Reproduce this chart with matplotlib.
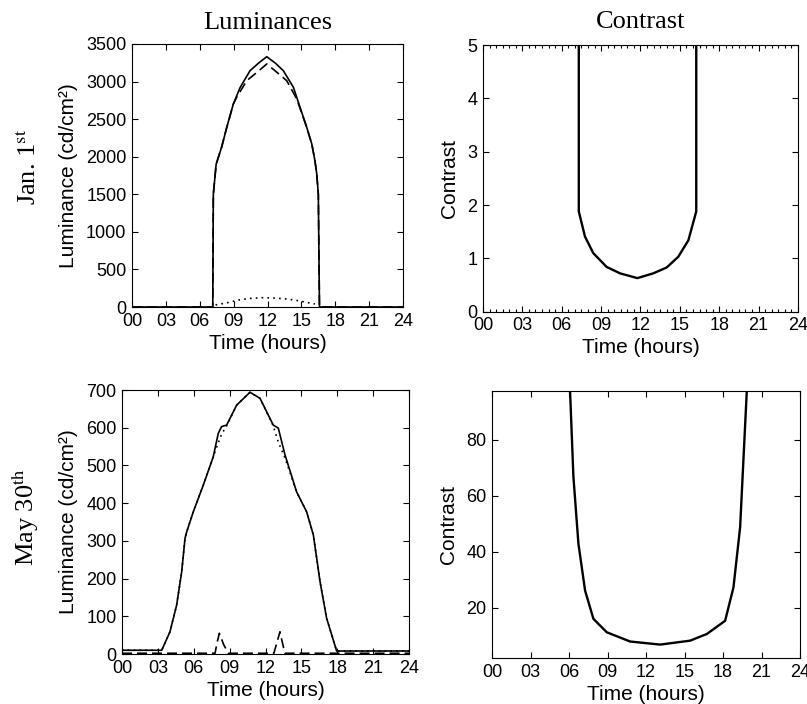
import matplotlib
matplotlib.use("Agg")
import matplotlib.pyplot as plt
from matplotlib.ticker import MultipleLocator

plt.rcParams['font.family'] = ['Liberation Sans', 'DejaVu Sans']
plt.rcParams['mathtext.fontset'] = 'stix'

# --- data ---
hour_ticks = [0, 3, 6, 9, 12, 15, 18, 21, 24]
hour_labels = ["%02d" % h for h in hour_ticks]

# Jan. 1st luminances
jan_time = [0, 7.15, 7.2, 7.45, 7.94, 8.39, 8.97, 9.57, 10.45, 11.2, 11.93,
            12.7, 13.4, 14.29, 14.88, 15.47, 15.92, 16.2, 16.36, 16.5, 16.6, 24]
jan_solid = [0, 0, 1500, 1900, 2130, 2390, 2700, 2920, 3145, 3245, 3331,
             3245, 3145, 2924, 2658, 2392, 2170, 1947, 1770, 1500, 0, 0]
jan_dash_time = [0, 7.15, 7.2, 7.45, 7.94, 8.39, 8.97, 9.27, 10.16, 11.2, 11.93,
                 12.7, 13.7, 14.59, 15.47, 15.92, 16.2, 16.36, 16.5, 16.6, 24]
jan_dashed = [0, 0, 1500, 1900, 2130, 2390, 2700, 2791, 3012, 3140, 3234,
              3140, 3012, 2768, 2392, 2170, 1947, 1770, 1500, 0, 0]
jan_dot_time = [7.4, 8.5, 9.5, 10.5, 11.5, 12.5, 13.5, 14.5, 15.5, 16.2]
jan_dotted = [27, 60, 95, 115, 124, 120, 110, 90, 60, 40]

# Jan. 1st contrast
jan_c_time = [7.3, 7.3, 7.77, 8.4, 9.42, 10.44, 11.76, 12.98, 14.0, 14.88, 15.65, 16.25, 16.25]
jan_contrast = [6, 1.88, 1.41, 1.10, 0.84, 0.72, 0.63, 0.72, 0.83, 1.03, 1.34, 1.88, 6]

# May 30th luminances
may_time = [0, 3.32, 4.01, 4.57, 4.99, 5.27, 5.41, 5.96, 6.80, 7.63, 8.05, 8.33,
            8.75, 9.59, 10.70, 11.54, 12.65, 13.07, 13.63, 14.6, 15.44, 16.0,
            16.56, 17.11, 17.95, 24]
may_solid = [10, 10, 59, 130, 218, 307, 324, 377, 448, 523, 585, 603,
             607, 660, 694, 678, 607, 599, 528, 430, 377, 316,
             192, 95, 8, 8]
may_dotted = [10, 10, 59, 130, 218, 307, 324, 377, 448, 523, 560, 583,
              605, 660, 694, 678, 605, 562, 520, 430, 377, 316,
              192, 95, 8, 8]
may_dash_time = [0, 7.78, 7.95, 8.14, 8.5, 8.89, 12.7, 12.95, 13.21, 13.45, 13.63, 24]
may_dashed = [2, 2, 30, 55, 25, 2, 2, 30, 59, 25, 2, 2]

# May 30th contrast
may_c_time = [5.95, 6.08, 6.34, 6.73, 7.25, 7.90, 8.94, 10.76, 13.1, 15.43,
              16.74, 18.16, 18.81, 19.33, 19.85, 19.95]
may_contrast = [110, 97.5, 66.9, 43.0, 26.2, 16.1, 11.3, 8.0, 6.9, 8.3,
                10.7, 15.4, 27.3, 48.8, 97.5, 110]

fig = plt.figure(figsize=(8.07, 7.04), dpi=100)
ax_tl = fig.add_axes([0.1636, 0.5639, 0.3358, 0.3736])
ax_tr = fig.add_axes([0.5985, 0.5572, 0.3903, 0.3788])
ax_bl = fig.add_axes([0.1512, 0.0710, 0.3556, 0.3750])
ax_br = fig.add_axes([0.6097, 0.0653, 0.3817, 0.3793])


def style_axes(ax, ylabel):
    ax.set_xlim(0, 24)
    ax.set_xticks(hour_ticks)
    ax.set_xticklabels(hour_labels)
    ax.set_xlabel("Time (hours)", fontsize=15, labelpad=3)
    ax.set_ylabel(ylabel, fontsize=15, labelpad=6)
    ax.tick_params(direction='in', top=True, right=True, length=4,
                   width=0.8, labelsize=13, pad=4)
    for sp in ax.spines.values():
        sp.set_linewidth(0.8)


# top-left: Jan luminance
ax_tl.plot(jan_time, jan_solid, color='black', lw=1.2)
ax_tl.plot(jan_dash_time, jan_dashed, color='black', lw=1.2, ls=(0, (6, 3)))
ax_tl.plot(jan_dot_time, jan_dotted, color='black', lw=1.2, ls=(0, (1, 2.5)))
ax_tl.set_ylim(0, 3500)
ax_tl.yaxis.set_major_locator(MultipleLocator(500))
style_axes(ax_tl, "Luminance (cd/cm²)")
ax_tl.set_title("Luminances", family='Liberation Serif', fontsize=19, pad=11)

# top-right: Jan contrast
ax_tr.plot(jan_c_time, jan_contrast, color='black', lw=1.7)
ax_tr.set_ylim(0, 5)
ax_tr.yaxis.set_major_locator(MultipleLocator(1))
style_axes(ax_tr, "Contrast")
ax_tr.xaxis.set_minor_locator(MultipleLocator(0.5))
ax_tr.tick_params(which='minor', direction='in', top=True, length=2, width=0.8)
ax_tr.set_title("Contrast", family='Liberation Serif', fontsize=19, pad=12)

# bottom-left: May luminance
ax_bl.plot(may_time, may_dotted, color='black', lw=1.2, ls=(0, (1, 2.5)))
ax_bl.plot(may_time, may_solid, color='black', lw=1.2)
ax_bl.plot(may_dash_time, may_dashed, color='black', lw=1.2, ls=(0, (6, 3)))
ax_bl.set_ylim(0, 700)
ax_bl.yaxis.set_major_locator(MultipleLocator(100))
style_axes(ax_bl, "Luminance (cd/cm²)")

# bottom-right: May contrast
ax_br.plot(may_c_time, may_contrast, color='black', lw=1.7)
ax_br.set_ylim(2.1, 97.5)
ax_br.set_yticks([20, 40, 60, 80])
style_axes(ax_br, "Contrast")

# row labels
fig.text(0.035, 0.763, r"Jan. 1$^{\rm st}$", family='Liberation Serif',
         fontsize=19, rotation=90, ha='center', va='center')
fig.text(0.031, 0.266, r"May 30$^{\rm th}$", family='Liberation Serif',
         fontsize=19, rotation=90, ha='center', va='center')

fig.savefig("out.png", dpi=100)
